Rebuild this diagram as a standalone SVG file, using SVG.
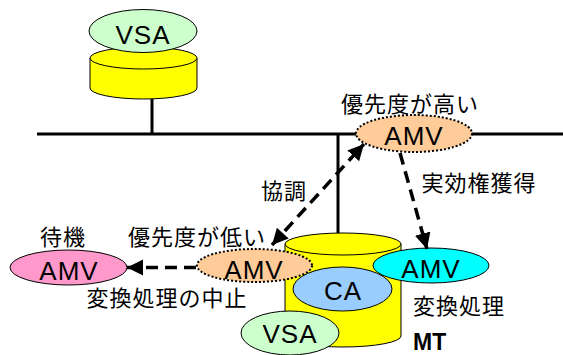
<svg xmlns="http://www.w3.org/2000/svg" width="563" height="355" viewBox="0 0 563 355">
<style>
.ln{stroke:#000;stroke-width:3;fill:none}
.dash{stroke:#000;stroke-width:3.5;fill:none;stroke-dasharray:12,7}
.el{stroke:#000;stroke-width:1}
.dot{stroke:#000;stroke-width:2;stroke-dasharray:2,2}
.lat{font-family:"Liberation Sans",Arial,sans-serif;font-size:26px;text-anchor:middle;fill:#000;letter-spacing:1px}
.jp{font-family:"Noto Sans CJK JP","Noto Sans CJK SC",sans-serif;font-size:22px;text-anchor:middle;fill:#000;letter-spacing:1px}
</style>
<defs>
<marker id="ah" markerUnits="userSpaceOnUse" markerWidth="20" markerHeight="20" refX="16" refY="8" orient="auto">
<path d="M0,0 L16,8 L0,16 Z" fill="#000"/>
</marker>
<marker id="ahs" markerUnits="userSpaceOnUse" markerWidth="20" markerHeight="20" refX="0" refY="8" orient="auto">
<path d="M16,0 L0,8 L16,16 Z" fill="#000"/>
</marker>
</defs>
<rect width="563" height="355" fill="#fff"/>
<g id="network">
<line class="ln" x1="37" y1="134" x2="563" y2="134"/>
<line class="ln" x1="152" y1="99" x2="152" y2="134"/>
<line class="ln" x1="338" y1="134" x2="338" y2="234"/>
</g>
<g id="vsa-top-db">
<path class="el" d="M90,58 L90,88 A53.5,11 0 0 0 197,88 L197,58" fill="#ffff00"/>
<ellipse class="el" cx="143.5" cy="58" rx="53.5" ry="11" fill="#ffff00"/>
</g>
<g id="vsa-top">
<ellipse class="el" cx="143" cy="31" rx="54" ry="21.5" fill="#ccffcc"/>
<text class="lat" x="143" y="44">VSA</text>
</g>
<g id="mt">
<path class="el" d="M285,244 L285,336 A58,11 0 0 0 401,336 L401,244" fill="#ffff00"/>
<ellipse class="el" cx="343" cy="244" rx="58" ry="11" fill="#ffff00"/>
<text x="413" y="350" style="font-family:'Liberation Sans',Arial,sans-serif;font-size:23px;font-weight:bold;fill:#000">MT</text>
</g>
<g id="amv-high">
<ellipse class="dot" cx="414" cy="133.5" rx="58" ry="18.5" fill="#ffcc99"/>
<text class="lat" x="414" y="145">AMV</text>
<text class="jp" x="410" y="112">優先度が高い</text>
</g>
<g id="amv-low">
<ellipse class="dot" cx="254.5" cy="265.5" rx="57.5" ry="16.5" fill="#ffcc99"/>
<text class="lat" x="254" y="279">AMV</text>
<text class="jp" x="197" y="245">優先度が低い</text>
</g>
<g id="amv-wait">
<ellipse class="el" cx="68.5" cy="267.5" rx="58.5" ry="17.5" fill="#ff99cc"/>
<text class="lat" x="69" y="280">AMV</text>
<text class="jp" x="63" y="245">待機</text>
</g>
<g id="ca">
<ellipse class="el" cx="342.5" cy="289" rx="49.5" ry="22" fill="#99ccff"/>
<text class="lat" x="343" y="300">CA</text>
</g>
<g id="amv-conv">
<ellipse class="el" cx="431" cy="265.5" rx="58" ry="17.5" fill="#00ffff"/>
<text class="lat" x="431" y="278">AMV</text>
<text class="jp" x="459" y="314">変換処理</text>
</g>
<g id="vsa-mt">
<ellipse class="el" cx="290" cy="333" rx="49" ry="22" fill="#ccffcc"/>
<text class="lat" x="290" y="343">VSA</text>
</g>
<g id="connectors">
<line class="dash" x1="272" y1="245" x2="364" y2="144" marker-start="url(#ahs)" marker-end="url(#ah)"/>
<line class="dash" x1="400" y1="153" x2="427" y2="249" marker-end="url(#ah)"/>
<line class="dash" x1="196" y1="267.5" x2="127" y2="267.5" marker-end="url(#ah)"/>
<text class="jp" x="284" y="199">協調</text>
<text class="jp" x="479" y="191">実効権獲得</text>
<text class="jp" x="167" y="306">変換処理の中止</text>
</g>
</svg>
